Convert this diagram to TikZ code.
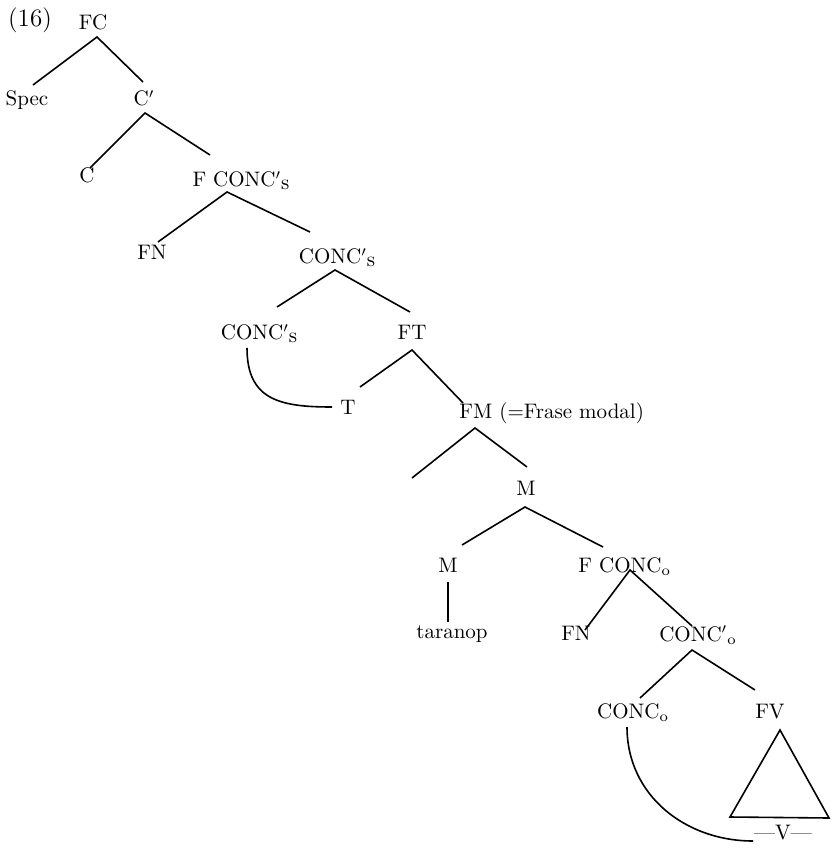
\documentclass[tikz,border=0pt]{standalone}
\newcommand{\subS}{\raisebox{-1.2pt}{s}}
\begin{document}
\begin{tikzpicture}[x=0.5pt,y=-0.5pt,
  lab/.style={inner sep=0pt,anchor=base,font=\fontsize{10.5}{12}\selectfont},
  labw/.style={inner sep=0pt,anchor=base west,font=\fontsize{10.5}{12}\selectfont},
  br/.style={line width=0.8pt}]
\useasboundingbox (0,0) rectangle (831,849);
% labels
\node[lab,font=\fontsize{12.5}{14}\selectfont] (ex) at (30,27) {(16)};
\node[lab] (fc) at (93,30) {FC};
\node[lab] (spec) at (27,106) {Spec};
\node[lab] (cbar) at (144,106) {C$'$};
\node[lab] (c) at (87,183) {C};
\node[lab] (fconcs) at (241,187) {F CONC$'$\subS};
\node[lab] (fn1) at (152,260) {FN};
\node[lab] (concsa) at (337,264) {CONC$'$\subS};
\node[lab] (concsb) at (259,340) {CONC$'$\subS};
\node[lab] (ft) at (412,340) {FT};
\node[lab] (t) at (348,414) {T};
\node[labw] (fm) at (459,418) {FM (=Frase modal)};
\coordinate (fmleft) at (412,478);
\node[lab] (mbar) at (526,495) {M};
\node[lab] (m) at (448,572) {M};
\node[labw] (fconco) at (578,572) {F CONC\textsubscript{o}};
\node[lab] (taranop) at (452,638) {taranop};
\node[lab] (fn2) at (576,640) {FN};
\node[lab] (conco1) at (698,641) {CONC$'$\textsubscript{o}};
\node[lab] (conco) at (633,718) {CONC\textsubscript{o}};
\node[lab] (fv) at (770,718) {FV};
\node[lab] (vmark) at (783,839) {---V---};
% branches
\draw[br] ([shift={(6,-21)}]spec.base) -- ([shift={(4,7)}]fc.base) -- ([shift={(-1,-24)}]cbar.base);
\draw[br] ([shift={(3,-15)}]c.base) -- ([shift={(1,7)}]cbar.base) -- ([shift={(-31,-32)}]fconcs.base);
\draw[br] ([shift={(6,-18)}]fn1.base) -- ([shift={(-14,5)}]fconcs.base) -- ([shift={(-27,-32)}]concsa.base);
\draw[br] ([shift={(18,-33)}]concsb.base) -- ([shift={(-2,6)}]concsa.base) -- ([shift={(-2,-28)}]ft.base);
\draw[br] ([shift={(12,-27)}]t.base) -- ([shift={(0,10)}]ft.base) -- ([shift={(4,-15)}]fm.base west);
\draw[br] (fmleft) -- ([shift={(16,10)}]fm.base west) -- ([shift={(1,-28)}]mbar.base);
\draw[br] ([shift={(14,-27)}]m.base) -- ([shift={(-1,12)}]mbar.base) -- ([shift={(25,-25)}]fconco.base west);
\draw[br] ([shift={(0,10)}]m.base) -- ([shift={(-4,-16)}]taranop.base);
\draw[br] ([shift={(9,-10)}]fn2.base) -- ([shift={(52,-2)}]fconco.base west) -- ([shift={(-6,-15)}]conco1.base);
\draw[br] ([shift={(7,-20)}]conco.base) -- ([shift={(-6,9)}]conco1.base) -- ([shift={(-15,-28)}]fv.base);
% triangle
\draw[br] ([shift={(10,12)}]fv.base) -- ([shift={(-40,99)}]fv.base) -- ([shift={(59,100)}]fv.base) -- cycle;
% curves
\draw[br] ([shift={(-12,8)}]concsb.base) .. controls +(0,52) and +(-52,0) .. ([shift={(-16,-7)}]t.base);
\draw[br] ([shift={(-6,9)}]conco.base) .. controls +(0,68) and +(-68,0) .. ([shift={(-30,2)}]vmark.base);
\end{tikzpicture}
\end{document}
